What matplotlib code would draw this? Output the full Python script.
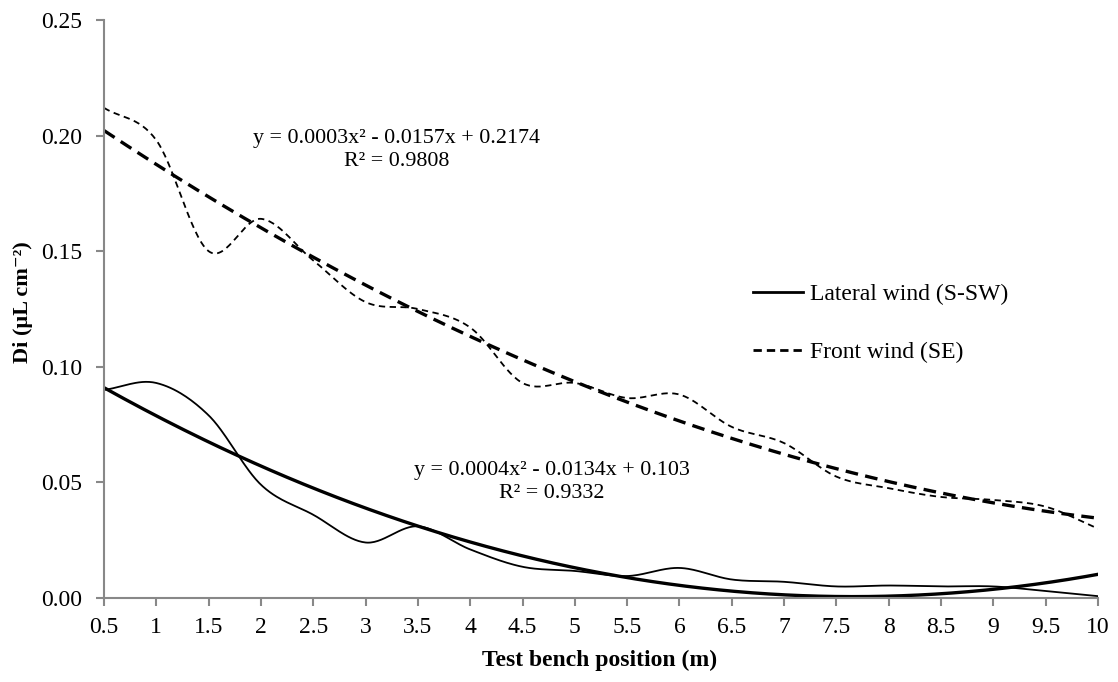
import numpy as np
import matplotlib
matplotlib.use("Agg")
import matplotlib.pyplot as plt
from matplotlib.lines import Line2D

positions = [0.5, 1, 1.5, 2, 2.5, 3, 3.5, 4, 4.5, 5, 5.5, 6, 6.5, 7, 7.5, 8, 8.5, 9, 9.5, 10]
tick_labels = ["0.5", "1", "1.5", "2", "2.5", "3", "3.5", "4", "4.5", "5", "5.5", "6",
               "6.5", "7", "7.5", "8", "8.5", "9", "9.5", "10"]
lateral = [0.090, 0.093, 0.079, 0.049, 0.036, 0.024, 0.031, 0.021, 0.0135, 0.0117,
           0.0095, 0.013, 0.008, 0.007, 0.005, 0.0054, 0.005, 0.005, 0.003, 0.0008]
front = [0.212, 0.198, 0.150, 0.164, 0.146, 0.128, 0.125, 0.117, 0.093, 0.093,
         0.0865, 0.088, 0.074, 0.067, 0.0525, 0.0475, 0.0437, 0.0424, 0.0395, 0.030]
eq_lateral = "y = 0.0004x² - 0.0134x + 0.103\nR² = 0.9332"
eq_front = "y = 0.0003x² - 0.0157x + 0.2174\nR² = 0.9808"

plt.rcParams['font.family'] = ['Liberation Serif', 'DejaVu Serif']


def catmull_rom(x, y, n=30):
    x = np.asarray(x, float); y = np.asarray(y, float)
    px = np.concatenate([[2 * x[0] - x[1]], x, [2 * x[-1] - x[-2]]])
    py = np.concatenate([[2 * y[0] - y[1]], y, [2 * y[-1] - y[-2]]])
    xs, ys = [], []
    t = np.linspace(0, 1, n, endpoint=False)
    for i in range(1, len(px) - 2):
        f = lambda a0, a1, a2, a3: 0.5 * ((2 * a1) + (-a0 + a2) * t +
                                          (2 * a0 - 5 * a1 + 4 * a2 - a3) * t ** 2 +
                                          (-a0 + 3 * a1 - 3 * a2 + a3) * t ** 3)
        xs.append(f(px[i - 1], px[i], px[i + 1], px[i + 2]))
        ys.append(f(py[i - 1], py[i], py[i + 1], py[i + 2]))
    xs.append([x[-1]]); ys.append([y[-1]])
    return np.concatenate(xs), np.concatenate(ys)


fig = plt.figure(figsize=(11.18, 6.82), dpi=100)
ax = fig.add_axes([104 / 1118, 1 - 598 / 682, (1098 - 104) / 1118, (598 - 20) / 682])

xi = np.arange(1, len(positions) + 1)
xpos = np.asarray(positions)

# data lines (smoothed)
sx, sy = catmull_rom(xpos, lateral)
ax.plot(sx, sy, color='black', lw=1.3)
sx, sy = catmull_rom(xpos, front)
ax.plot(sx, sy, color='black', lw=1.3, ls=(0, (3.5, 2.5)))

# polynomial trendlines (order 2), fitted on category index like Excel
xf = np.linspace(1, len(positions), 300)
xfpos = np.interp(xf, xi, xpos)
cl = np.polyfit(xi, lateral, 2)
ax.plot(xfpos, np.polyval(cl, xf), color='black', lw=2.4)
cf = np.polyfit(xi, front, 2)
ax.plot(xfpos, np.polyval(cf, xf), color='black', lw=2.4, ls=(0, (3.8, 2.2)))

ax.set_xlim(0.5, 10)
ax.set_ylim(0, 0.25)
ax.set_xticks(positions)
ax.set_xticklabels(tick_labels)
ax.set_yticks([0, 0.05, 0.10, 0.15, 0.20, 0.25])
ax.set_yticklabels(["0.00", "0.05", "0.10", "0.15", "0.20", "0.25"])
for s in ['top', 'right']:
    ax.spines[s].set_visible(False)
for s in ['left', 'bottom']:
    ax.spines[s].set_color('#888888')
    ax.spines[s].set_linewidth(1.5)
ax.tick_params(direction='out', length=6, width=1.5, color='#888888', labelsize=17)
ax.tick_params(axis='y', pad=10)
ax.tick_params(axis='x', pad=8)

ax.set_xlabel("Test bench position (m)", fontsize=17, fontweight='bold')
ax.xaxis.set_label_coords((600 - 104) / 994, (598 - 650) / 578)
ax.set_ylabel("Di (µL cm⁻²)", fontsize=16, fontweight='bold')
ax.yaxis.set_label_coords((33 - 104) / 994, (598 - 302) / 578)

ax.text(3.3, 0.1936, eq_front, ha='center', va='center', fontsize=15.8, linespacing=1.3)
ax.text(4.78, 0.0502, eq_lateral, ha='center', va='center', fontsize=15.8, linespacing=1.3)

handles = [Line2D([], [], color='black', lw=2.0),
           Line2D([], [], color='black', lw=2.0, ls=(0, (3, 1.8)))]
ax.legend(handles, ["Lateral wind (S-SW)", "Front wind (SE)"], loc='center left',
          bbox_to_anchor=(753 / 1118, 1 - 323.5 / 682), bbox_transform=fig.transFigure,
          frameon=False, fontsize=17, handlelength=2.1, borderpad=0, borderaxespad=0,
          handletextpad=0.33, labelspacing=1.55)

fig.savefig("out.png", dpi=100)
